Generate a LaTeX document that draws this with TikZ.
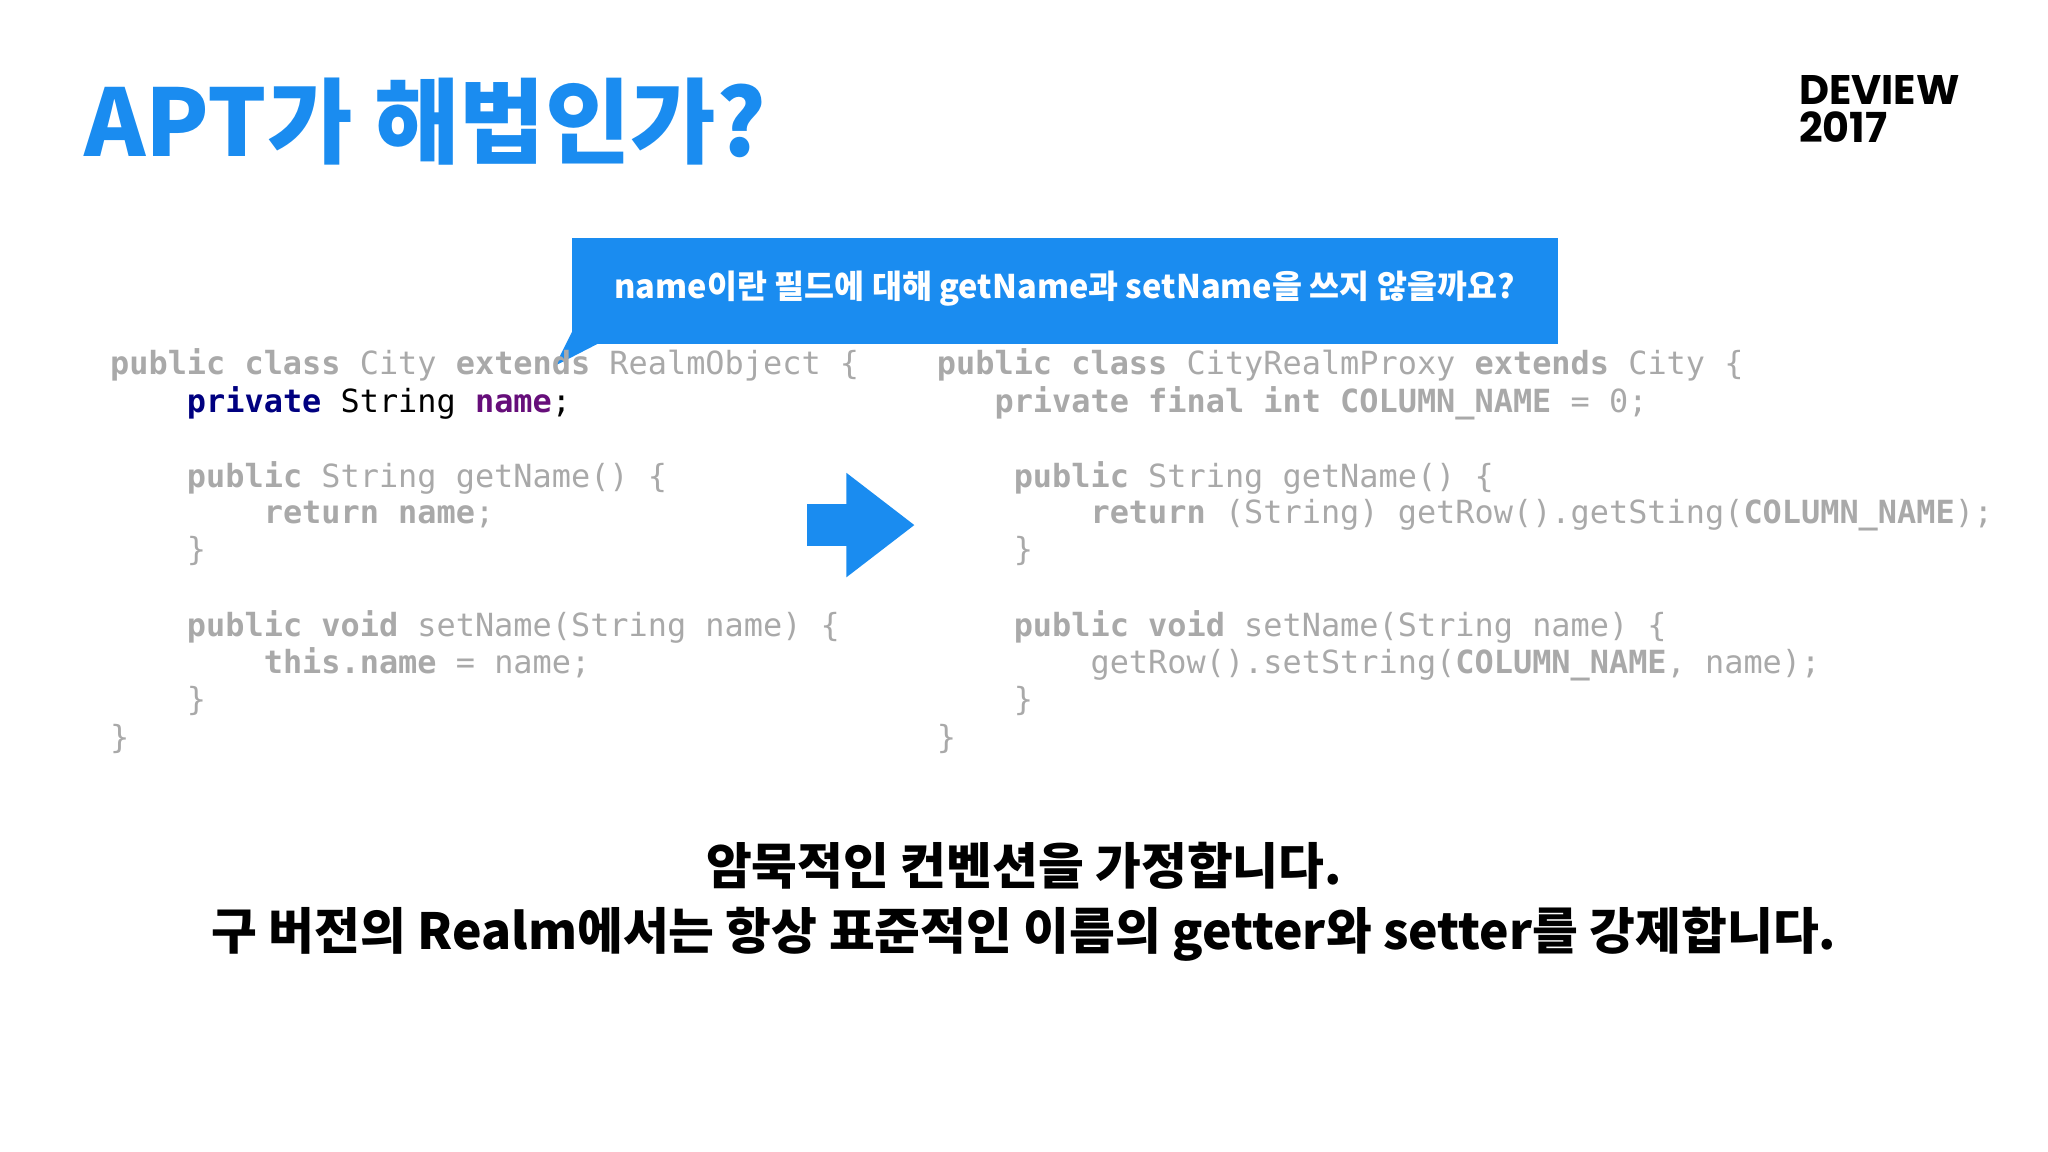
\documentclass[tikz,border=0pt]{standalone}
\usepackage{fontspec}
\setmainfont{Noto Sans CJK KR}
\setmonofont{DejaVu Sans Mono}
\newfontfamily\dev{Poppins}
\definecolor{tblue}{HTML}{1A8CF0}
\definecolor{cg}{HTML}{A9A9A9}
\definecolor{kwnavy}{HTML}{000080}
\definecolor{fpurp}{HTML}{660E7A}
\begin{document}
\begin{tikzpicture}[x=0.02cm,y=-0.02cm,
  code/.style={anchor=base west,inner sep=0pt,font=\ttfamily\fontsize{13.9}{16}\selectfont,text=cg},
  bot/.style={anchor=base,inner sep=0pt,font=\fontsize{21.7}{26}\selectfont\bfseries}]
\useasboundingbox (0,0) rectangle (1568,882);
\node[anchor=base west,inner sep=0pt,text=tblue,font=\fontsize{40.5}{44}\selectfont\bfseries] (title) at (64,120) {APT가 해법인가?};
\node[anchor=base west,inner sep=0pt,font=\dev\fontsize{18}{20}\selectfont\bfseries] (dev) at (1377,80) {DEVIEW};
\node[anchor=base west,inner sep=0pt,font=\dev\fontsize{18}{20}\selectfont\bfseries] (dev2) at (1377,109) {2017};
% callout
\fill[tblue] (438,182) rectangle (1193,263);
\fill[tblue] (440,250) -- (425,280) -- (460,262) -- cycle;
\node[text=white,inner sep=0pt,font=\fontsize{14.2}{18}\selectfont\bfseries] (call) at (815,221) {name이란 필드에 대해 getName과 setName을 쓰지 않을까요?};
% arrow
\fill[tblue] (618,386) -- (648,386) -- (648,362) -- (700,402) -- (648,442) -- (648,418) -- (618,418) -- cycle;
% left code
\node[code] (l0) at (84,287) {\textbf{public class} City \textbf{extends} RealmObject \{};
\node[code,text=black] (l1) at (84,316) {\phantom{xxxx}\textbf{\textcolor{kwnavy}{private}} String \textbf{\textcolor{fpurp}{name}};};
\node[code] (l3) at (84,373) {\phantom{xxxx}\textbf{public} String getName() \{};
\node[code] (l4) at (84,401) {\phantom{xxxxxxxx}\textbf{return name};};
\node[code] (l5) at (84,429) {\phantom{xxxx}\}};
\node[code] (l7) at (84,487) {\phantom{xxxx}\textbf{public void} setName(String name) \{};
\node[code] (l8) at (84,516) {\phantom{xxxxxxxx}\textbf{this.name} = name;};
\node[code] (l9) at (84,544) {\phantom{xxxx}\}};
\node[code] (l10) at (84,573) {\}};
% right code
\node[code] (r0) at (717,287) {\textbf{public class} CityRealmProxy \textbf{extends} City \{};
\node[code] (r1) at (717,316) {\phantom{xxx}\textbf{private final int COLUMN\_NAME} = 0;};
\node[code] (r3) at (717,373) {\phantom{xxxx}\textbf{public} String getName() \{};
\node[code] (r4) at (717,401) {\phantom{xxxxxxxx}\textbf{return} (String) getRow().getSting(\textbf{COLUMN\_NAME});};
\node[code] (r5) at (717,429) {\phantom{xxxx}\}};
\node[code] (r7) at (717,487) {\phantom{xxxx}\textbf{public void} setName(String name) \{};
\node[code] (r8) at (717,516) {\phantom{xxxxxxxx}getRow().setString(\textbf{COLUMN\_NAME}, name);};
\node[code] (r9) at (717,544) {\phantom{xxxx}\}};
\node[code] (r10) at (717,573) {\}};
% bottom
\node[bot] (b1) at (784,677) {암묵적인 컨벤션을 가정합니다.};
\node[bot] (b2) at (784,727) {구 버전의 Realm에서는 항상 표준적인 이름의 getter와 setter를 강제합니다.};
\end{tikzpicture}
\end{document}
